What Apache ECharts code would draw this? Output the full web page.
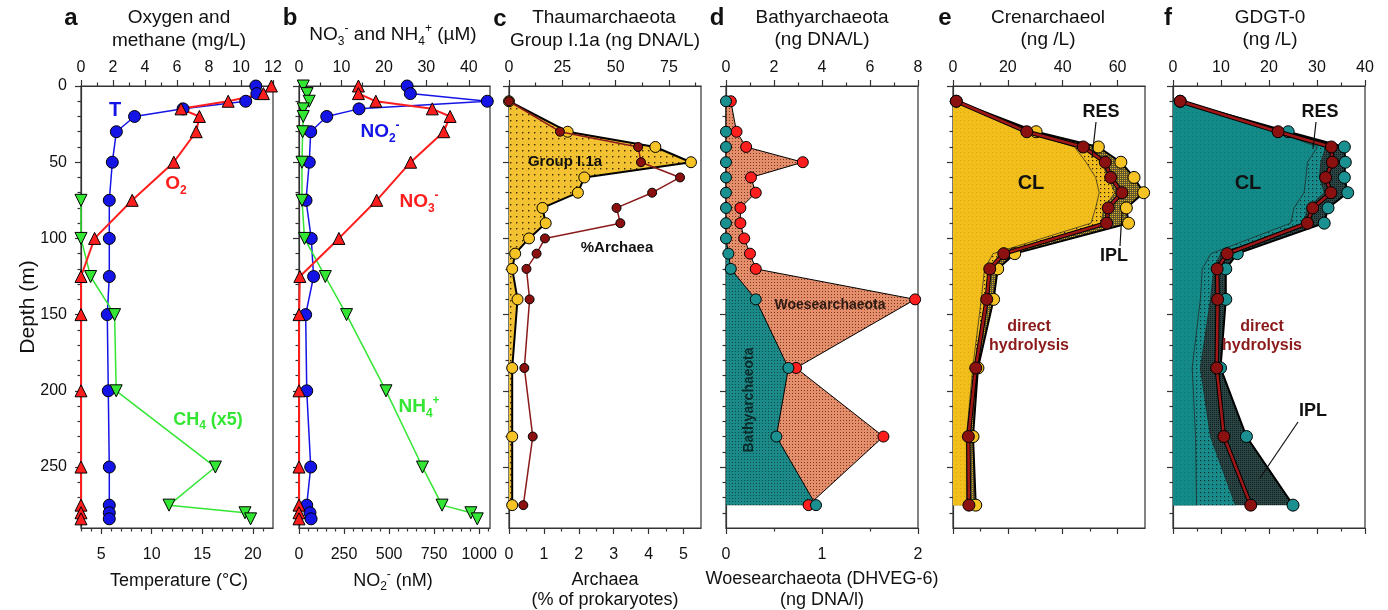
<!DOCTYPE html>
<html>
<head>
<meta charset="utf-8">
<script src="https://cdn.jsdelivr.net/npm/echarts@6/dist/echarts.min.js"></script>
<style>
  html, body { margin: 0; background: #fff; }
  #chart { width: 1388px; height: 610px; }
</style>
</head>
<body>
<div id="chart"></div>
<script>
// ---- data (depth in m) ----
var depthA = [0, 5, 10, 15, 20, 30, 50, 75, 100, 125, 150, 200, 250, 275, 280, 284]
var depthCH4 = [75, 100, 125, 150, 200, 250, 275, 280, 284]
var tempA = [20.3, 20.4, 19.3, 13.1, 8.3, 6.5, 6.1, 5.8, 5.8, 5.8, 5.6, 5.7, 5.8, 5.8, 5.8, 5.8]
var o2A = [11.9, 11.4, 9.2, 6.25, 7.4, 7.2, 5.8, 3.2, 0.85, 0, 0, 0, 0, 0, 0, 0]
var ch4A = [0, 0, 0.6, 2.1, 2.2, 8.4, 5.5, 10.25, 10.6]

var no2B = [600, 618, 1045, 333, 154, 65, 57, 39, 68, 81, 37, 43, 65, 43, 61, 67]
var no3B = [14, 14, 18.1, 31.4, 35.6, 34.1, 26.3, 18.3, 9.4, 0.2, 0, 0, 0, 0, 0, 0]
var nh4B = [1.0, 1.9, 2.4, 1.0, 1.0, 0.86, 0.7, 0.7, 1.3, 6.2, 11.2, 20.5, 29.1, 33.7, 40.5, 42.0]

var depthCD = [10, 30, 40, 50, 60, 70, 80, 90, 100, 110, 120, 140, 185, 230, 275]
var thaumC = [0, 27.5, 68.6, 85.3, 35.3, 32.3, 15.7, 17.2, 9.4, 2.9, 1.5, 4, 1.5, 1.5, 1.5]
var archaeaC = [0, 1.46, 3.7, 3.78, 4.9, 4.1, 3.08, 3.19, 1.03, 0.79, 0.5, 0.59, 0.44, 0.68, 0.41]
var bathyD = [0, 0, 0, 0, 0, 0, 0, 0, 0, 0.1, 0.2, 1.24, 2.6, 2.1, 3.75]
var woeseD = [0.05, 0.11, 0.21, 0.8, 0.26, 0.31, 0.15, 0.15, 0.19, 0.25, 0.31, 1.97, 0.73, 1.64, 0.86]

var depthEF = [10, 30, 40, 50, 60, 70, 80, 90, 110, 120, 140, 185, 230, 275]
var crenTotal = [1.2, 30.3, 53, 61.2, 66, 69.5, 63.2, 64, 22.5, 16.3, 14.8, 9.1, 7.3, 8.3]
var crenHydro = [1.2, 26.9, 47.5, 55.5, 57.5, 61.6, 56.6, 56, 18.5, 13.4, 12.3, 8.3, 5.6, 5.8]
var crenCL = [1, 26.5, 44.3, 48.5, 52, 53.3, 52, 50.3, 14.6, 11.5, 10.3, 7.2, 4.9, 4.9]
var crenRES = [1.2, 27.5, 48, 54, 56.6, 59, 55, 54, 17.3, 13, 12, 8, 5.6, 5.9]
var gdgtTotal = [1.5, 24, 35.7, 35.9, 35.7, 36.4, 32.3, 31.5, 13.4, 11, 11, 9.9, 15.3, 25]
var gdgtHydro = [1.5, 21.9, 33, 33.2, 31.8, 32.9, 29.1, 28, 11.3, 9.2, 9.3, 9.1, 10.6, 16.2]
var gdgtCL = [1.5, 21.5, 30.1, 28.0, 27.7, 27.3, 25.2, 24.5, 7.9, 6.1, 5.7, 4.0, 4.7, 4.9]
var gdgtRES = [1.5, 22, 31.8, 30.8, 30.5, 31.5, 28, 27.3, 9.9, 8.5, 7.8, 5.7, 7.8, 13.0]

// ---- tick labels ----
var depthTicks = [0, 50, 100, 150, 200, 250]
var o2Ticks = [0, 2, 4, 6, 8, 10, 12]
var tempTicks = [5, 10, 15, 20]
var no3Ticks = [0, 10, 20, 30, 40]
var no2Ticks = [0, 250, 500, 750, 1000]
var thaumTicks = [0, 25, 50, 75]
var archTicks = [0, 1, 2, 3, 4, 5]
var bathyTicks = [0, 2, 4, 6, 8]
var woeseTicks = [0, 1, 2]
var crenTicks = [0, 20, 40, 60]
var gdgtTicks = [0, 10, 20, 30, 40]

var FONT = '"Liberation Sans", Arial, sans-serif'
var AX = '#333'
var LEFTS = [81, 299, 509, 726, 953, 1173]
var WIDTHS = [192, 191, 192, 192, 192, 192]

function steps(a, b, s, skip) {
  var out = []
  for (var v = a; v <= b + 1e-9; v += s) {
    var r = Math.round(v * 1000) / 1000
    if (skip.indexOf(r) < 0) out.push(r)
  }
  return out
}

var grids = LEFTS.map(function (l, i) {
  return { left: l, top: 86, width: WIDTHS[i], height: 442, show: true,
    borderColor: AX, borderWidth: 1.2, backgroundColor: 'rgba(0,0,0,0)' }
})

var MARGIN = { top: 10, bottom: 19, left: 14 }
var xAxes = [], yAxes = []
function tickAxis(list, grid, pos, min, max, major, minor, labels, inverse) {
  var base = { type: 'value', gridIndex: grid, position: pos, min: min, max: max,
    inverse: !!inverse, splitLine: { show: false } }
  list.push(Object.assign({}, base, {
    axisLine: { show: true, onZero: false, lineStyle: { color: AX, width: 1.2 } },
    axisTick: { show: true, customValues: major, length: 6, lineStyle: { color: AX, width: 1.2 } },
    axisLabel: { show: labels, customValues: major, color: '#111', fontSize: 16, fontFamily: FONT,
      margin: MARGIN[pos], formatter: function (v) { return String(v) } }
  }))
  var idx = list.length - 1
  list.push(Object.assign({}, base, {
    axisLine: { show: false, onZero: false },
    axisTick: { show: true, customValues: minor, length: 3.5, lineStyle: { color: AX, width: 1.2 } },
    axisLabel: { show: false }
  }))
  return idx
}

var yIdx = [], xTop = [], xBot = []
var depthMinor = steps(10, 280, 10, depthTicks)
for (var p = 0; p < 6; p++) {
  yIdx.push(tickAxis(yAxes, p, 'left', 0, 290, depthTicks, depthMinor, p === 0, true))
}
xTop.push(tickAxis(xAxes, 0, 'top', 0, 12, o2Ticks, steps(1, 11, 2, []), true))
xBot.push(tickAxis(xAxes, 0, 'bottom', 3, 22, tempTicks, steps(3, 21, 1, tempTicks), true))
xTop.push(tickAxis(xAxes, 1, 'top', 0, 45, no3Ticks, steps(5, 35, 10, []), true))
xBot.push(tickAxis(xAxes, 1, 'bottom', 0, 1060, no2Ticks, steps(50, 1050, 50, no2Ticks), true))
xTop.push(tickAxis(xAxes, 2, 'top', 0, 90, thaumTicks, [12.5, 37.5, 62.5, 87.5], true))
xBot.push(tickAxis(xAxes, 2, 'bottom', 0, 5.5, archTicks, steps(0.5, 4.5, 1, []), true))
xTop.push(tickAxis(xAxes, 3, 'top', 0, 8, bathyTicks, [1, 3, 5, 7], true))
xBot.push(tickAxis(xAxes, 3, 'bottom', 0, 2, woeseTicks, [0.5, 1.5], true))
xTop.push(tickAxis(xAxes, 4, 'top', 0, 70, crenTicks, [10, 30, 50], true))
xBot.push(tickAxis(xAxes, 4, 'bottom', 0, 70, crenTicks, [10, 30, 50], false))
xTop.push(tickAxis(xAxes, 5, 'top', 0, 40, gdgtTicks, [5, 15, 25, 35], true))
xBot.push(tickAxis(xAxes, 5, 'bottom', 0, 40, gdgtTicks, [5, 15, 25, 35], false))

// dotted fill patterns
function dots(bg, dot, step, r) {
  var c = document.createElement('canvas')
  c.width = c.height = step
  var g = c.getContext('2d')
  g.fillStyle = bg
  g.fillRect(0, 0, step, step)
  g.fillStyle = dot
  g.fillRect(0, 0, r, r)
  return { image: c, repeat: 'repeat' }
}

function prof(xi, yi, vals, depths, o) {
  return {
    type: 'line', xAxisIndex: xi, yAxisIndex: yi, clip: false, silent: true, animation: false,
    data: depths.map(function (d, i) { return [vals[i], d] }),
    symbol: o.symbol || 'circle', symbolSize: o.size == null ? 12 : o.size,
    symbolRotate: o.rotate || 0, showSymbol: o.size !== 0,
    lineStyle: { color: o.line, width: o.width || 1.5 },
    itemStyle: { color: o.fill || o.line, borderColor: '#000', borderWidth: 1 },
    z: o.z || 3
  }
}

function area(xi, yi, vals, depths, fill, z) {
  return {
    type: 'custom', xAxisIndex: xi, yAxisIndex: yi, z: z || 1, silent: true, animation: false,
    data: [[0, depths[0]]],
    renderItem: function (params, api) {
      var pts = depths.map(function (d, i) { return api.coord([vals[i], d]) })
      pts.push(api.coord([0, depths[depths.length - 1]]))
      pts.push(api.coord([0, depths[0]]))
      return { type: 'polygon', shape: { points: pts }, style: { fill: fill } }
    }
  }
}

var BLUE = '#1414E6', RED = '#FF1E1E', GREEN = '#33E633', YEL = '#F5C424', DRED = '#8B1010', TEAL = '#1A9090'

var series = [
  // a
  prof(xBot[0], yIdx[0], tempA, depthA, { line: BLUE }),
  prof(xTop[0], yIdx[0], ch4A, depthCH4, { line: GREEN, symbol: 'triangle', rotate: 180, size: 12 }),
  prof(xTop[0], yIdx[0], o2A, depthA, { line: RED, symbol: 'triangle', size: 12, width: 2 }),
  // b
  prof(xBot[1], yIdx[1], no2B, depthA, { line: BLUE }),
  prof(xTop[1], yIdx[1], nh4B, depthA, { line: GREEN, symbol: 'triangle', rotate: 180, size: 12 }),
  prof(xTop[1], yIdx[1], no3B, depthA, { line: RED, symbol: 'triangle', size: 12, width: 2 }),
  // c
  area(xTop[2], yIdx[2], thaumC, depthCD, dots('#F3C232', '#3a2a00', 6, 1.4)),
  prof(xTop[2], yIdx[2], thaumC, depthCD, { line: '#000', fill: YEL, width: 2, size: 11 }),
  prof(xBot[2], yIdx[2], archaeaC, depthCD, { line: '#8B1A1A', fill: DRED, width: 1.5, size: 9, z: 4 }),
  // d
  area(xBot[3], yIdx[3], woeseD, depthCD, dots('#E58E6C', '#7a3a22', 3, 1), 1),
  area(xTop[3], yIdx[3], bathyD, depthCD, dots('#1C8A88', '#0b4a48', 3, 1), 2),
  prof(xBot[3], yIdx[3], woeseD, depthCD, { line: '#000', fill: RED, width: 1, size: 11 }),
  prof(xTop[3], yIdx[3], bathyD, depthCD, { line: '#000', fill: TEAL, width: 1, size: 11, z: 4 }),
  // e
  area(xTop[4], yIdx[4], crenTotal, depthEF, dots('#5e5630', '#E0B020', 2, 1), 1),
  area(xTop[4], yIdx[4], crenRES, depthEF, dots('#F0BC1E', '#2a2000', 4, 1.2), 2),
  area(xTop[4], yIdx[4], crenCL, depthEF, dots('#F2BE1C', '#DBA514', 4, 1), 3),
  prof(xTop[4], yIdx[4], crenCL, depthEF, { line: '#222', width: 0.7, size: 0, z: 4 }),
  prof(xTop[4], yIdx[4], crenRES, depthEF, { line: '#222', width: 0.7, size: 0, z: 4 }),
  prof(xTop[4], yIdx[4], crenTotal, depthEF, { line: '#000', fill: YEL, width: 2, size: 12, z: 5 }),
  prof(xTop[4], yIdx[4], crenHydro, depthEF, { line: '#000', width: 4.5, size: 0, z: 6 }),
  prof(xTop[4], yIdx[4], crenHydro, depthEF, { line: '#A01818', fill: DRED, width: 2.5, size: 12, z: 7 }),
  // f
  area(xTop[5], yIdx[5], gdgtTotal, depthEF, dots('#2C4646', '#0e1e1e', 2, 1), 1),
  area(xTop[5], yIdx[5], gdgtRES, depthEF, dots('#178C8A', '#052a2a', 4, 1.2), 2),
  area(xTop[5], yIdx[5], gdgtCL, depthEF, dots('#138A88', '#0e7472', 4, 1), 3),
  prof(xTop[5], yIdx[5], gdgtCL, depthEF, { line: '#222', width: 0.7, size: 0, z: 4 }),
  prof(xTop[5], yIdx[5], gdgtRES, depthEF, { line: '#222', width: 0.7, size: 0, z: 4 }),
  prof(xTop[5], yIdx[5], gdgtTotal, depthEF, { line: '#000', fill: TEAL, width: 2, size: 12, z: 5 }),
  prof(xTop[5], yIdx[5], gdgtHydro, depthEF, { line: '#000', width: 4.5, size: 0, z: 6 }),
  prof(xTop[5], yIdx[5], gdgtHydro, depthEF, { line: '#A01818', fill: DRED, width: 2.5, size: 12, z: 7 })
]

// ---- text ----
function chem(size, color, bold) {
  var w = bold ? 'bold' : 'normal'
  return {
    n: { fontSize: size, fill: color, fontWeight: w, fontFamily: FONT, lineHeight: size + 6 },
    sb: { fontSize: Math.round(size * 0.65), fill: color, fontWeight: w, fontFamily: FONT, verticalAlign: 'bottom', lineHeight: Math.round(size * 0.65) },
    sp: { fontSize: Math.round(size * 0.65), fill: color, fontWeight: w, fontFamily: FONT, verticalAlign: 'top', lineHeight: Math.round(size * 0.65) }
  }
}
function label(x, y, text, o) {
  o = o || {}
  return { type: 'text', x: x, y: y, rotation: o.rot || 0, silent: true, z: 100,
    style: { text: text, fill: o.color || '#111', fontSize: o.size || 19,
      fontWeight: o.bold ? 'bold' : 'normal', fontFamily: FONT,
      align: 'center', verticalAlign: 'middle', rich: o.rich } }
}
function pointer(x1, y1, x2, y2) {
  return { type: 'line', silent: true, z: 100, shape: { x1: x1, y1: y1, x2: x2, y2: y2 },
    style: { stroke: '#111', lineWidth: 1.2 } }
}

var graphics = [
  label(71, 18, 'a', { size: 24, bold: true }),
  label(290, 18, 'b', { size: 24, bold: true }),
  label(500, 19, 'c', { size: 24, bold: true }),
  label(717, 18, 'd', { size: 24, bold: true }),
  label(945, 18, 'e', { size: 24, bold: true }),
  label(1168, 18, 'f', { size: 24, bold: true }),
  label(179, 18, 'Oxygen and'),
  label(179, 41, 'methane (mg/L)'),
  label(393, 35, '{n|NO}{sb|3}{sp|-}{n| and NH}{sb|4}{sp|+}{n| (\u00b5M)}', { rich: chem(19, '#111') }),
  label(604, 18, 'Thaumarchaeota'),
  label(605, 41, 'Group I.1a (ng DNA/L)'),
  label(822, 18, 'Bathyarchaeota'),
  label(822, 40, '(ng DNA/L)'),
  label(1048, 18, 'Crenarchaeol'),
  label(1048, 40, '(ng /L)'),
  label(1270, 18, 'GDGT-0'),
  label(1270, 40, '(ng /L)'),
  label(179, 581, 'Temperature (\u00b0C)', { size: 18 }),
  label(393, 581, '{n|NO}{sb|2}{sp|-}{n| (nM)}', { rich: chem(18, '#111') }),
  label(605, 580, 'Archaea', { size: 18 }),
  label(605, 600, '(% of prokaryotes)', { size: 18 }),
  label(822, 579, 'Woesearchaeota (DHVEG-6)', { size: 18 }),
  label(822, 600, '(ng DNA/l)', { size: 18 }),
  label(28, 307, 'Depth (m)', { size: 21, rot: Math.PI / 2 }),
  // a
  label(115, 110, 'T', { color: BLUE, bold: true, size: 20 }),
  label(176, 184, '{n|O}{sb|2}', { rich: chem(19, RED, true) }),
  label(208, 420, '{n|CH}{sb|4}{n| (x5)}', { rich: chem(18, GREEN, true) }),
  // b
  label(380, 132, '{n|NO}{sb|2}{sp|-}', { rich: chem(19, BLUE, true) }),
  label(419, 202, '{n|NO}{sb|3}{sp|-}', { rich: chem(19, RED, true) }),
  label(419, 407, '{n|NH}{sb|4}{sp|+}', { rich: chem(19, GREEN, true) }),
  // c
  label(565, 162, 'Group I.1a', { bold: true, size: 15 }),
  label(617, 248, '%Archaea', { bold: true, size: 15 }),
  // d
  label(830, 305, 'Woesearchaeota', { bold: true, size: 14, color: '#2a1a12' }),
  label(749, 400, 'Bathyarchaeota', { bold: true, size: 14, color: '#0a2a2a', rot: Math.PI / 2 }),
  // e
  label(1101, 112, 'RES', { bold: true, size: 18 }),
  pointer(1096, 122, 1092, 158),
  label(1031, 183, 'CL', { bold: true, size: 20 }),
  label(1114, 256, 'IPL', { bold: true, size: 18 }),
  pointer(1120, 246, 1122, 212),
  label(1029, 327, 'direct', { bold: true, size: 16, color: '#8B1A1A' }),
  label(1029, 346, 'hydrolysis', { bold: true, size: 16, color: '#8B1A1A' }),
  // f
  label(1320, 112, 'RES', { bold: true, size: 18 }),
  pointer(1316, 122, 1313, 149),
  label(1248, 183, 'CL', { bold: true, size: 20 }),
  label(1262, 327, 'direct', { bold: true, size: 16, color: '#8B1A1A' }),
  label(1262, 346, 'hydrolysis', { bold: true, size: 16, color: '#8B1A1A' }),
  label(1313, 411, 'IPL', { bold: true, size: 18 }),
  pointer(1298, 422, 1260, 478)
]

var chart = echarts.init(document.getElementById('chart'))
chart.setOption({
  backgroundColor: '#fff',
  animation: false,
  grid: grids,
  xAxis: xAxes,
  yAxis: yAxes,
  series: series,
  graphic: graphics
})
</script>
</body>
</html>
